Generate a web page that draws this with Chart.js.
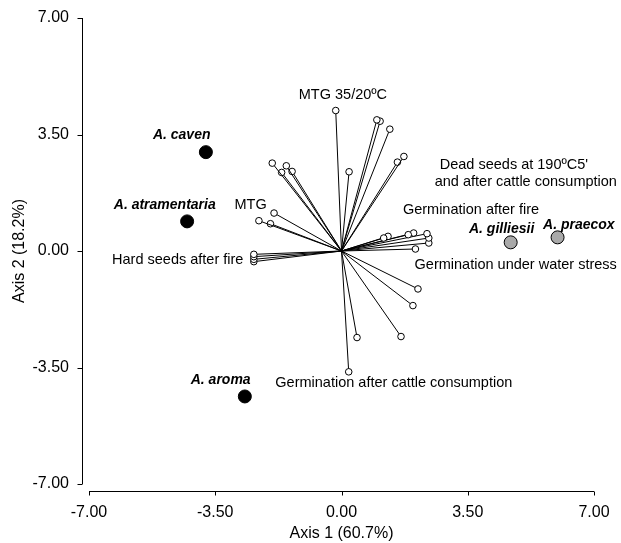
<!DOCTYPE html>
<html>
<head>
<meta charset="utf-8">
<script src="https://cdn.jsdelivr.net/npm/chart.js@4/dist/chart.umd.min.js"></script>
<style>
  html, body { margin: 0; padding: 0; background: #fff; }
  #wrap { width: 621px; height: 543px; }
</style>
</head>
<body>
<div id="wrap"><canvas id="c"></canvas></div>
<script>
// axis ticks
const tickValues = [-7, -3.5, 0, 3.5, 7];

// variable vectors (end points, from origin)
const vectorX = [-0.16, 0.21, 0.98, 1.07, 1.34, 1.73, 1.55, -1.92, -1.53, -1.66, -1.37, -1.87, -2.29, -1.97,
  -2.43, -2.43, -2.43, -2.43, 1.17, 1.29, 1.85, 2.00, 2.37, 2.42, 2.42, 2.05, 2.12, 1.98, 1.65, 0.43, 0.20];
const vectorY = [4.22, 2.38, 3.94, 3.90, 3.66, 2.84, 2.67, 2.64, 2.56, 2.36, 2.39, 1.14, 0.91, 0.82,
  -0.10, -0.17, -0.25, -0.32, 0.39, 0.44, 0.49, 0.54, 0.52, 0.39, 0.24, 0.06, -1.14, -1.64, -2.57, -2.60, -3.63];

// species scores
const species = ['A. caven', 'A. atramentaria', 'A. aroma', 'A. gilliesii', 'A. praecox'];
const speciesX = [-3.76, -4.28, -2.68, 4.69, 5.99];
const speciesY = [2.97, 0.89, -4.37, 0.26, 0.41];

// variable labels
const varLabels = ['MTG 35/20ºC', 'MTG', 'Hard seeds after fire', "Dead seeds at 190ºC5'",
  'and after cattle consumption', 'Germination after fire', 'Germination under water stress',
  'Germination after cattle consumption'];

// where the labels sit (data units)
const varLabelAt = [[0.04, 4.69], [-2.52, 1.39], [-4.54, -0.26], [4.78, 2.59], [5.11, 2.08],
  [3.59, 1.24], [4.83, -0.41], [1.45, -3.98]];
const speciesLabelAt = [[-4.43, 3.49], [-4.90, 1.39], [-3.35, -3.89], [4.44, 0.67], [6.58, 0.79]];

const FONT = '"Liberation Sans", Arial, Helvetica, sans-serif';

const datasets = [];
datasets.push({
  label: 'species',
  data: species.map((s, i) => ({ x: speciesX[i], y: speciesY[i] })),
  showLine: false,
  pointRadius: 6.5,
  pointBorderWidth: 1,
  pointBorderColor: '#000',
  pointBackgroundColor: species.map((s, i) => i < 3 ? '#000' : '#a9a9a9'),
});
vectorX.forEach((vx, i) => {
  datasets.push({
    label: 'v' + i,
    data: [{ x: 0, y: 0 }, { x: vx, y: vectorY[i] }],
    showLine: true,
    borderColor: '#000',
    borderWidth: 1,
    pointRadius: [0, 3.3],
    pointBorderWidth: 1,
    pointBorderColor: '#000',
    pointBackgroundColor: '#fff',
  });
});

const axisPlugin = {
  id: 'axisLines',
  afterDraw(chart) {
    const { ctx, chartArea, scales } = chart;
    const xs = scales.x, ys = scales.y;
    ctx.save();
    ctx.strokeStyle = '#000';
    ctx.lineWidth = 1;
    // y axis, pulled away from the plot
    const ax = Math.round(chartArea.left - 7) + 0.5;
    ctx.beginPath();
    ctx.moveTo(ax, ys.getPixelForValue(7));
    ctx.lineTo(ax, ys.getPixelForValue(-7));
    tickValues.forEach(v => {
      const py = Math.round(ys.getPixelForValue(v)) + 0.5;
      ctx.moveTo(ax, py);
      ctx.lineTo(ax - 5, py);
    });
    ctx.stroke();
    // x axis
    const ay = Math.round(chartArea.bottom + 7) + 0.5;
    ctx.beginPath();
    ctx.moveTo(xs.getPixelForValue(-7), ay);
    ctx.lineTo(xs.getPixelForValue(7), ay);
    tickValues.forEach(v => {
      const px = Math.round(xs.getPixelForValue(v)) + 0.5;
      ctx.moveTo(px, ay);
      ctx.lineTo(px, ay + 4);
    });
    ctx.stroke();
    ctx.restore();
  },
  afterDatasetsDraw(chart) {
    const { ctx, scales } = chart;
    ctx.save();
    ctx.fillStyle = '#000';
    ctx.textAlign = 'center';
    ctx.textBaseline = 'middle';
    ctx.font = '14.5px ' + FONT;
    varLabels.forEach((t, i) => {
      ctx.fillText(t, scales.x.getPixelForValue(varLabelAt[i][0]), scales.y.getPixelForValue(varLabelAt[i][1]));
    });
    ctx.font = 'italic bold 14px ' + FONT;
    species.forEach((t, i) => {
      ctx.fillText(t, scales.x.getPixelForValue(speciesLabelAt[i][0]), scales.y.getPixelForValue(speciesLabelAt[i][1]));
    });
    ctx.restore();
  }
};

new Chart(document.getElementById('c'), {
  type: 'scatter',
  data: { datasets },
  options: {
    responsive: true,
    maintainAspectRatio: false,
    animation: false,
    events: [],
    layout: { padding: { top: 18, right: 27, left: 0, bottom: 0 } },
    plugins: { legend: { display: false }, tooltip: { enabled: false } },
    scales: {
      x: {
        type: 'linear',
        min: -7, max: 7,
        afterBuildTicks: (s) => { s.ticks = tickValues.map(v => ({ value: v })); },
        afterFit: (s) => { s.height = 59; s.paddingLeft = 0; s.paddingRight = 0; },
        grid: { display: false, drawTicks: false },
        border: { display: false },
        ticks: { padding: 19, color: '#000', font: { family: FONT, size: 16 }, callback: v => v.toFixed(2) },
        title: { display: true, text: 'Axis 1 (60.7%)', color: '#000', font: { family: FONT, size: 16 }, padding: { top: 0, bottom: 0 } },
      },
      y: {
        type: 'linear',
        min: -7, max: 7,
        afterBuildTicks: (s) => { s.ticks = tickValues.map(v => ({ value: v })); },
        afterFit: (s) => { s.width = 89; s.paddingTop = 0; s.paddingBottom = 0; },
        grid: { display: false, drawTicks: false },
        border: { display: false },
        ticks: { padding: 20, color: '#000', font: { family: FONT, size: 16 }, callback: v => v.toFixed(2) },
        title: { display: true, text: 'Axis 2 (18.2%)', color: '#000', font: { family: FONT, size: 16 }, padding: { top: 10, bottom: 0 } },
      },
    },
  },
  plugins: [axisPlugin],
});
</script>
</body>
</html>
